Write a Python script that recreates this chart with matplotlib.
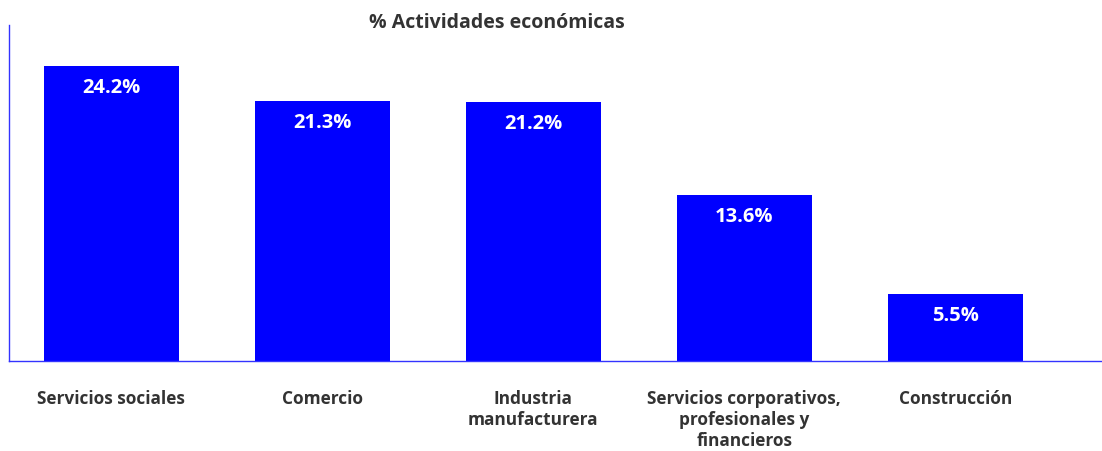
import matplotlib.pyplot as plt

# Datos
categorias = ['Servicios sociales', 'Comercio', 'Industria\nmanufacturera',
              'Servicios corporativos,\nprofesionales y\nfinancieros', 'Construcción']
porcentajes = [24.2, 21.3, 21.2, 13.6, 5.5]
etiquetas = ['24.2%', '21.3%', '21.2%', '13.6%', '5.5%']

plt.rcParams['font.family'] = ['Open Sans', 'DejaVu Sans']

fig = plt.figure(figsize=(11.02, 4.51), dpi=100)
ax = fig.add_axes([9 / 1102, 90 / 451, 1093 / 1102, 336 / 451])

x = list(range(len(categorias)))
barras = ax.bar(x, porcentajes, width=0.64, color='#0000ff')

# Etiquetas dentro de las barras
for xi, val, txt in zip(x, porcentajes, etiquetas):
    ax.annotate(txt, (xi, val), xytext=(0, -22), textcoords='offset pixels',
                ha='center', va='center', color='white', fontsize=14.5, fontweight='bold')

ax.set_xlim(-0.485, 4.695)
ax.set_ylim(0, 27.55)
ax.set_yticks([])
ax.set_xticks(x)
ax.set_xticklabels(categorias, fontsize=12.4, fontweight='bold', color='#333333',
                   va='top', linespacing=1.22)
ax.tick_params(axis='x', length=0, pad=21)

for lado in ['top', 'right']:
    ax.spines[lado].set_visible(False)
for lado in ['left', 'bottom']:
    ax.spines[lado].set_color('#3333ff')
    ax.spines[lado].set_linewidth(1)

fig.text(497 / 1102, 1 - 23 / 451, '% Actividades económicas', ha='center', va='center',
         fontsize=14, fontweight='bold', color='#333333')

plt.savefig('out.png', dpi=100)
